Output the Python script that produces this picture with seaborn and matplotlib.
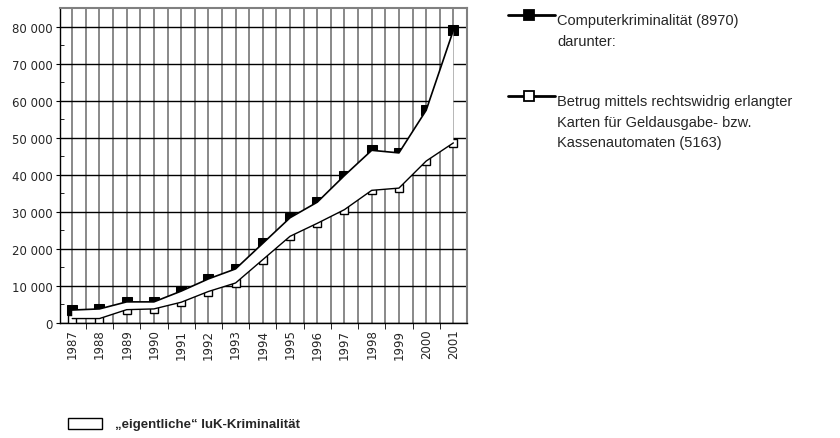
import numpy as np
import pandas as pd
import matplotlib
matplotlib.use("Agg")
import matplotlib.pyplot as plt
import seaborn as sns
from matplotlib.lines import Line2D
from matplotlib.patches import Rectangle
from matplotlib.ticker import FuncFormatter, MultipleLocator

# Werte
jahre = [1987, 1988, 1989, 1990, 1991, 1992, 1993, 1994, 1995, 1996,
         1997, 1998, 1999, 2000, 2001]
computerkrim = [3500, 3800, 5700, 5700, 8600, 11900, 14600, 21500, 28400,
                32600, 39800, 46600, 45900, 57400, 79000]
kartenbetrug = [1200, 1200, 3600, 3800, 5600, 8500, 10800, 17100, 23400,
                26900, 30600, 35800, 36400, 43700, 48600]

label_computer = ["Computerkriminalität (8970)", "darunter:"]
label_karten = ["Betrug mittels rechtswidrig erlangter",
                "Karten für Geldausgabe- bzw.",
                "Kassenautomaten (5163)"]
label_band = "\u201eeigentliche\u201c IuK-Kriminalität"

df = pd.DataFrame({"pos": np.arange(len(jahre)), "Jahr": jahre,
                   "Computer": computerkrim, "Karten": kartenbetrug})

sns.set_style("white")
plt.rcParams['font.family'] = ['Liberation Sans', 'DejaVu Sans']

fig = plt.figure(figsize=(8.4, 4.39), dpi=100)
ax = fig.add_axes([60/840, 1-324/439, 407/840, 315/439])

# Marker zuerst, Band darüber (wie im Original teilweise verdeckt)
sns.lineplot(data=df, x="pos", y="Computer", ax=ax, color="black", lw=0,
             marker="s", markersize=7, markerfacecolor="black",
             markeredgecolor="black", zorder=3)
sns.lineplot(data=df, x="pos", y="Karten", ax=ax, color="black", lw=0,
             marker="s", markersize=6, markerfacecolor="white",
             markeredgecolor="black", markeredgewidth=1, zorder=3)
ax.fill_between(df["pos"], df["Karten"], df["Computer"], facecolor="white",
                edgecolor="none", zorder=4)
ax.plot(df["pos"], df["Computer"], color="black", lw=1.2, zorder=5)
ax.plot(df["pos"], df["Karten"], color="black", lw=1, zorder=5)

tickfont = {"family": "DejaVu Sans", "size": 8.5}
ax.set_xlim(-0.45, 14.5)
ax.set_ylim(0, 85000)
ax.set_xticks(df["pos"])
ax.set_xticklabels([str(j) for j in jahre], rotation=90, fontdict=tickfont)
ax.set_xticks(np.arange(0.5, 14.5, 1), minor=True)
ax.yaxis.set_major_locator(MultipleLocator(10000))
ax.yaxis.set_minor_locator(MultipleLocator(5000))
ax.yaxis.set_major_formatter(FuncFormatter(lambda v, p: f"{int(v):,}".replace(",", " ")))
ax.tick_params(axis="y", labelsize=8.5, labelfontfamily="DejaVu Sans", which="major",
               length=3, direction="out", left=True, color="black", pad=2)
ax.tick_params(axis="y", which="minor", length=3, direction="in", left=True, color="black")
ax.tick_params(axis="x", which="major", length=0, pad=4)
ax.tick_params(axis="x", which="minor", length=4, direction="out", bottom=True, color="black")

ax.grid(axis="x", which="both", color="#808080", lw=1.3)
ax.grid(axis="y", which="major", color="black", lw=1)
ax.set_axisbelow(True)
ax.set_xlabel("")
ax.set_ylabel("")

for s in ["left", "bottom"]:
    ax.spines[s].set_color("black")
    ax.spines[s].set_linewidth(1)
for s in ["top", "right"]:
    ax.spines[s].set_color("#808080")
    ax.spines[s].set_linewidth(1.5)

# Legende rechts
def px(x, y):
    return x/840, 1 - y/439

for y_line, filled, lines, y_text in [(16, True, label_computer, 21),
                                      (97, False, label_karten, 102)]:
    x0, y0 = px(508, y_line)
    x1, _ = px(555, y_line)
    fig.add_artist(Line2D([x0, x1], [y0, y0], color="black", lw=2))
    fig.add_artist(Line2D([(x0+x1)/2 - 0.003], [y0], marker="s", markersize=6.5,
                          markerfacecolor="black" if filled else "white",
                          markeredgecolor="black", markeredgewidth=1.3, lw=0))
    for i, t in enumerate(lines):
        tx, ty = px(557, y_text + 20.5*i)
        fig.text(tx, ty, t, fontsize=10.5, va="center", ha="left")

# Legende unten
bx, by = px(68, 430)
fig.add_artist(Rectangle((bx, by), 34/840, 11/439, facecolor="white",
                         edgecolor="black", lw=1, transform=fig.transFigure))
tx, ty = px(115, 425)
fig.text(tx, ty, label_band, fontsize=9.5, fontweight="bold", va="center", ha="left")

fig.savefig("out.png", dpi=100)
